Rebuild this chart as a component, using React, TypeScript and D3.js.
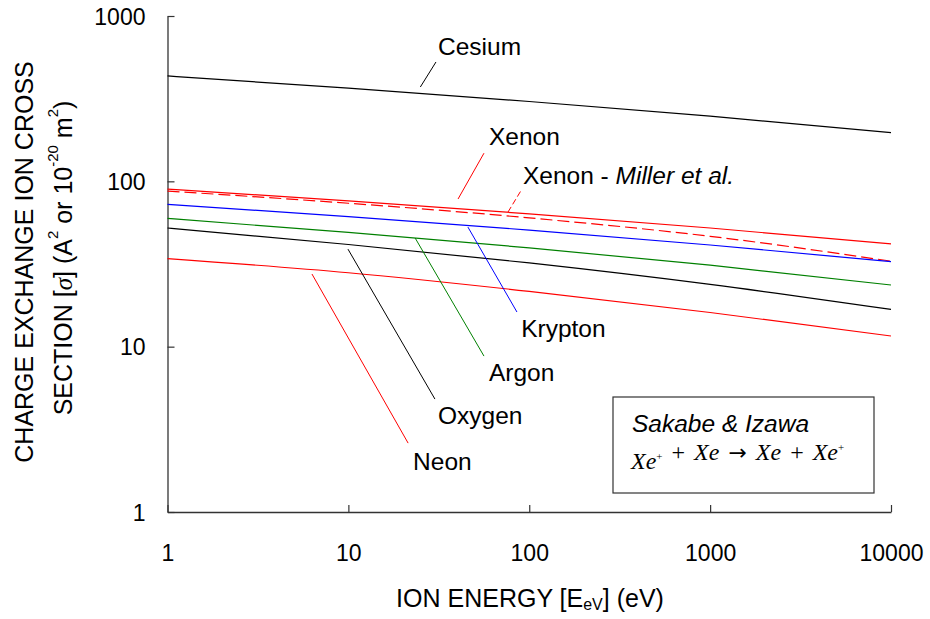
import React, { useEffect, useRef } from "react";
import * as d3 from "d3";

// ---- data ----
const energies = [1, 10, 100, 1000, 10000];
const cesium = [434, 366, 304, 248, 197];
const xenon = [89.8, 76.2, 63.6, 52.2, 41.8];
const xenonMiller = [87.3, 73.7, 60.1, 46.5, 32.9];
const krypton = [72.6, 61.2, 50.7, 41.2, 32.7];
const argon = [59.7, 49.1, 39.6, 31.1, 23.6];
const oxygen = [52.2, 41.5, 32.1, 23.8, 16.8];
const neon = [34.1, 28.0, 21.6, 16.1, 11.6];

const xTicks = [1, 10, 100, 1000, 10000];
const yTicks = [1, 10, 100, 1000];

const seriesNames = ["Cesium", "Xenon", "Xenon - Miller", "Krypton", "Argon", "Oxygen", "Neon"];
const seriesValues = [cesium, xenon, xenonMiller, krypton, argon, oxygen, neon];
const seriesColors = ["#000000", "#ff0000", "#ff0000", "#0000ff", "#008000", "#000000", "#ff0000"];
const seriesDash = [null, null, "12,5", null, null, null, null];

// annotation leaders in data space: [E1, s1, E2, s2], label anchor [E, s]
const leaderStart = [[25, 372], [40.4, 78.2], [76.3, 65.2], [45.8, 52.9], [23.4, 45.4], [9.95, 38.9], [6.29, 27.5]];
const leaderEnd = [[30.5, 527], [56.2, 148], [91.1, 89.8], [85.5, 16.2], [56.2, 8.77], [30.1, 4.82], [21.4, 2.61]];
const labelPos = [[31.3, 581], [59.9, 165.8], [92.3, 96.4], [90.2, 11.4], [59.9, 6.19], [31.3, 3.4], [22.8, 1.79]];

const W = 930;
const H = 619;
const FONT = "'Liberation Sans', Arial, sans-serif";
const SERIF = "'Liberation Serif', 'Times New Roman', serif";

export default function App() {
  const ref = useRef<SVGSVGElement>(null);

  useEffect(() => {
    const svg = d3.select(ref.current);
    svg.selectAll("*").remove();

    const x = d3.scaleLog().domain([1, 10000]).range([167.5, 891]);
    const y = d3.scaleLog().domain([1, 1000]).range([512, 16]);

    const axisColor = "#333";

    // axes
    const gx = svg.append("g").attr("transform", "translate(0,512)");
    gx.call(
      d3.axisBottom(x).tickValues(xTicks).tickSize(-7).tickSizeOuter(0).tickFormat((d: any) => String(d))
    );
    gx.select(".domain").attr("stroke", axisColor).attr("stroke-width", 1.3);
    gx.selectAll(".tick line").attr("stroke", axisColor).attr("stroke-width", 1.2);
    gx.selectAll(".tick text")
      .attr("font-family", FONT)
      .attr("font-size", 23)
      .attr("fill", "#000")
      .attr("y", 49)
      .attr("dy", 0);

    const gy = svg.append("g").attr("transform", "translate(167.5,0)");
    gy.call(
      d3.axisLeft(y).tickValues(yTicks).tickSize(-7).tickSizeOuter(0).tickFormat((d: any) => String(d))
    );
    gy.select(".domain").attr("stroke", axisColor).attr("stroke-width", 1.3);
    gy.selectAll(".tick line").attr("stroke", axisColor).attr("stroke-width", 1.2);
    gy.selectAll(".tick text")
      .attr("font-family", FONT)
      .attr("font-size", 23)
      .attr("fill", "#000")
      .attr("x", -22)
      .attr("dy", "0.36em");

    // curves
    const line = d3
      .line<[number, number]>()
      .x((d) => x(d[0]))
      .y((d) => y(d[1]))
      .curve(d3.curveMonotoneX);

    seriesValues.forEach((vals, i) => {
      const pts: [number, number][] = energies.map((e, j) => [e, vals[j]]);
      const p = svg
        .append("path")
        .attr("d", line(pts))
        .attr("fill", "none")
        .attr("stroke", seriesColors[i])
        .attr("stroke-width", 1.2);
      if (seriesDash[i]) p.attr("stroke-dasharray", seriesDash[i] as string);
    });

    // leaders and labels
    seriesNames.forEach((name, i) => {
      const l = svg
        .append("line")
        .attr("x1", x(leaderStart[i][0]))
        .attr("y1", y(leaderStart[i][1]))
        .attr("x2", x(leaderEnd[i][0]))
        .attr("y2", y(leaderEnd[i][1]))
        .attr("stroke", seriesColors[i])
        .attr("stroke-width", 1);
      if (seriesDash[i]) l.attr("stroke-dasharray", "6,3");
      const t = svg
        .append("text")
        .attr("x", x(labelPos[i][0]))
        .attr("y", y(labelPos[i][1]))
        .attr("font-family", FONT)
        .attr("font-size", 24.5)
        .attr("fill", "#000");
      if (name === "Xenon - Miller") {
        t.append("tspan").text("Xenon - ");
        t.append("tspan").attr("font-style", "italic").text("Miller et al.");
      } else {
        t.text(name);
      }
    });

    // box
    svg
      .append("rect")
      .attr("x", 613)
      .attr("y", 397)
      .attr("width", 261)
      .attr("height", 96)
      .attr("fill", "#fff")
      .attr("stroke", axisColor)
      .attr("stroke-width", 1.2);
    svg
      .append("text")
      .attr("x", 632)
      .attr("y", 432)
      .attr("font-family", FONT)
      .attr("font-size", 24.5)
      .attr("font-style", "italic")
      .text("Sakabe & Izawa");
    const f = svg
      .append("text")
      .attr("x", 631)
      .attr("y", 469)
      .attr("font-family", SERIF)
      .attr("font-size", 24)
      .attr("word-spacing", 3)
      .attr("fill", "#000");
    const fi = (s: string) => f.append("tspan").attr("font-style", "italic").text(s);
    const fn = (s: string) => f.append("tspan").text(s);
    const sup = () => f.append("tspan").attr("font-size", 11).attr("dy", -9).text("+");
    const down = () => f.append("tspan").attr("dy", 9);
    fi("Xe");
    sup();
    down();
    fn(" + ");
    fi("Xe");
    fn(" ");
    f.append("tspan").attr("font-family", "'DejaVu Sans', sans-serif").attr("font-size", 22).text("\u2192");
    fn(" ");
    fi("Xe");
    fn(" + ");
    fi("Xe");
    sup();

    // x title
    const xt = svg
      .append("text")
      .attr("x", 530)
      .attr("y", 607)
      .attr("text-anchor", "middle")
      .attr("font-family", FONT)
      .attr("font-size", 25)
      .attr("fill", "#000");
    xt.append("tspan").text("ION ENERGY [E");
    xt.append("tspan").attr("font-size", 16).attr("dy", 3).text("eV");
    xt.append("tspan").attr("dy", -3).text("] (eV)");

    // y title
    svg
      .append("text")
      .attr("transform", "translate(33,262) rotate(-90)")
      .attr("text-anchor", "middle")
      .attr("font-family", FONT)
      .attr("font-size", 25)
      .attr("fill", "#000")
      .text("CHARGE EXCHANGE ION CROSS");
    const yt2 = svg
      .append("text")
      .attr("transform", "translate(72,258) rotate(-90)")
      .attr("text-anchor", "middle")
      .attr("font-family", FONT)
      .attr("font-size", 25)
      .attr("fill", "#000");
    yt2.append("tspan").text("SECTION [");
    yt2.append("tspan").attr("font-style", "italic").attr("font-family", SERIF).text("\u03C3");
    yt2.append("tspan").text("] (A");
    yt2.append("tspan").attr("font-size", 15).attr("dy", -14).text("2");
    yt2.append("tspan").attr("dy", 14).text(" or 10");
    yt2.append("tspan").attr("font-size", 15).attr("dy", -14).text("-20");
    yt2.append("tspan").attr("dy", 14).text(" m");
    yt2.append("tspan").attr("font-size", 15).attr("dy", -14).text("2");
    yt2.append("tspan").attr("dy", 14).text(")");
  }, []);

  return (
    <svg
      ref={ref}
      width={W}
      height={H}
      style={{ position: "absolute", left: 0, top: 0, background: "#fff" }}
    />
  );
}
